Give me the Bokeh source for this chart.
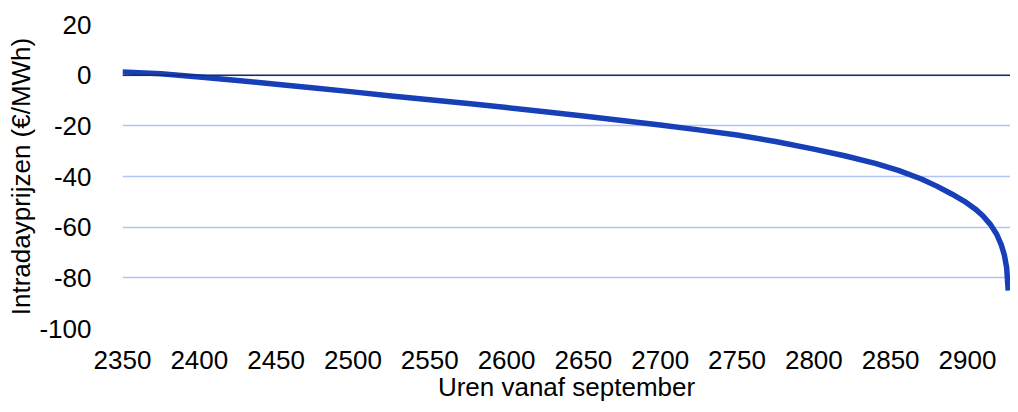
from bokeh.plotting import figure
from bokeh.models import Range1d, FixedTicker, Span, CustomJSTickFormatter
from bokeh.embed import file_html
from bokeh.resources import INLINE

hours = [2350, 2375, 2400, 2425, 2450, 2475, 2500, 2525, 2550, 2575, 2600, 2625,
         2650, 2675, 2700, 2725, 2750, 2775, 2800, 2820, 2840, 2855, 2870, 2880,
         2890, 2898, 2905, 2910, 2915, 2919, 2922, 2924, 2925.5, 2926.5]
prices = [1.3, 0.6, -0.7, -2.1, -3.6, -5.1, -6.6, -8.2, -9.7, -11.2, -12.8, -14.4,
          -16.1, -17.9, -19.7, -21.6, -23.6, -26.2, -29.2, -31.8, -34.8, -37.6, -41.0, -43.8,
          -47.0, -49.8, -52.8, -55.5, -59.0, -62.8, -67.0, -71.0, -76.0, -85.0]
x_ticks = [2350, 2400, 2450, 2500, 2550, 2600, 2650, 2700, 2750, 2800, 2850, 2900]
y_ticks = [-100, -80, -60, -40, -20, 0, 20]

FONT = "Liberation Sans"

p = figure(width=1010, height=404, output_backend="svg", toolbar_location=None,
           x_range=Range1d(2350, 2928), y_range=Range1d(-100, 20),
           min_border_left=122, min_border_right=0, min_border_top=24, min_border_bottom=74)
p.outline_line_color = None
p.background_fill_color = "white"
p.border_fill_color = "white"

p.line(hours, prices, line_color="#1740b8", line_width=5.5, line_join="round")

zero = Span(location=0, dimension="width", line_color="#1d2b5e", line_width=1.5)
p.add_layout(zero)

p.xgrid.visible = False
p.ygrid.grid_line_color = "#b0c4f8"
p.ygrid.grid_line_width = 1.6

fmt = CustomJSTickFormatter(code="return tick.toFixed(0);")
for ax in (p.xaxis[0], p.yaxis[0]):
    ax.axis_line_color = None
    ax.major_tick_line_color = None
    ax.minor_tick_line_color = None
    ax.formatter = fmt
    ax.major_label_text_font = FONT
    ax.major_label_text_font_size = "26px"
    ax.major_label_text_color = "#000000"
    ax.axis_label_text_font = FONT
    ax.axis_label_text_font_size = "26px"
    ax.axis_label_text_font_style = "normal"
    ax.axis_label_text_color = "#000000"

p.xaxis.ticker = FixedTicker(ticks=x_ticks)
p.yaxis.ticker = FixedTicker(ticks=y_ticks)
p.xaxis.axis_label = "Uren vanaf september"
p.yaxis.axis_label = "Intradayprijzen (€/MWh)"
p.xaxis.major_label_standoff = 16
p.xaxis.axis_label_standoff = 0
p.yaxis.major_label_standoff = 25
p.yaxis.axis_label_standoff = 0

open("out.html", "w").write(file_html(p, INLINE))
